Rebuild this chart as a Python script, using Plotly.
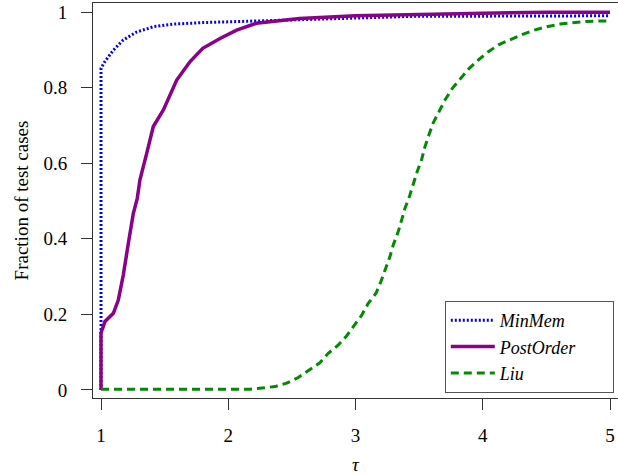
import plotly.graph_objects as go

minmem_tau = [1, 1, 1.031, 1.097, 1.175, 1.28, 1.41, 1.57, 1.8, 2.0, 2.25, 2.56, 3.0, 3.5, 4.0, 4.5, 5.0]
minmem_frac = [0, 0.851, 0.869, 0.899, 0.926, 0.947, 0.961, 0.968, 0.972, 0.974, 0.977, 0.981, 0.985, 0.989, 0.989, 0.990, 0.990]

postorder_tau = [1, 1, 1.031, 1.097, 1.136, 1.175, 1.215, 1.254, 1.285, 1.306, 1.359, 1.411, 1.49, 1.595,
                 1.70, 1.80, 1.935, 2.066, 2.22, 2.56, 3.0, 3.5, 4.0, 4.5, 5.0]
postorder_frac = [0, 0.151, 0.181, 0.203, 0.238, 0.304, 0.388, 0.467, 0.507, 0.556, 0.626, 0.697, 0.741, 0.820,
                  0.869, 0.904, 0.930, 0.952, 0.970, 0.983, 0.990, 0.994, 0.997, 0.999, 0.999]

liu_tau = [1, 2.171, 2.367, 2.459, 2.55, 2.642, 2.72, 2.786, 2.865, 2.93, 2.996, 3.049, 3.10, 3.161, 3.20,
           3.232, 3.271, 3.297, 3.332, 3.363, 3.389, 3.423, 3.454, 3.486, 3.52, 3.546, 3.578, 3.611, 3.659,
           3.703, 3.761, 3.827, 3.894, 3.965, 4.044, 4.128, 4.214, 4.314, 4.405, 4.503, 4.607, 4.712, 4.817,
           4.92, 5.0]
liu_frac = [0.002, 0.002, 0.009, 0.018, 0.033, 0.053, 0.072, 0.097, 0.119, 0.143, 0.172, 0.198, 0.229, 0.256,
            0.287, 0.317, 0.353, 0.384, 0.415, 0.450, 0.481, 0.511, 0.547, 0.579, 0.61, 0.644, 0.676, 0.707,
            0.738, 0.767, 0.798, 0.824, 0.851, 0.873, 0.895, 0.914, 0.927, 0.941, 0.952, 0.961, 0.968, 0.972,
            0.975, 0.976, 0.976]

series_names = ["MinMem", "PostOrder", "Liu"]

x_ticks = [1, 2, 3, 4, 5]
y_ticks = [0, 0.2, 0.4, 0.6, 0.8, 1]
y_ticktext = ["0", "0.2", "0.4", "0.6", "0.8", "1"]

serif = "Liberation Serif, Times New Roman, serif"
pad = "&nbsp;" * 7

fig = go.Figure()
fig.add_trace(go.Scatter(x=minmem_tau, y=minmem_frac, mode="lines", name="<i>%s</i>" % series_names[0],
                         line=dict(color="#0000FF", width=3, dash="2px,2px")))
fig.add_trace(go.Scatter(x=postorder_tau, y=postorder_frac, mode="lines", name="<i>%s</i>%s" % (series_names[1], pad),
                         line=dict(color="#8B008B", width=3.5)))
fig.add_trace(go.Scatter(x=liu_tau, y=liu_frac, mode="lines", name="<i>%s</i>" % series_names[2],
                         line=dict(color="#008B00", width=3, dash="8px,5px")))

fig.update_layout(
    width=618, height=475,
    margin=dict(l=93, r=0, t=3, b=77, autoexpand=False),
    paper_bgcolor="white", plot_bgcolor="white",
    font=dict(family=serif, size=19, color="black"),
    showlegend=True,
    legend=dict(x=0.992, y=0.0127, xanchor="right", yanchor="bottom",
                bgcolor="white", bordercolor="#555555", borderwidth=1,
                font=dict(family=serif, size=18), tracegroupgap=0, itemwidth=44),
    xaxis=dict(range=[0.9371, 5.0629], tickvals=x_ticks, ticktext=[str(v) for v in x_ticks],
               showgrid=False, zeroline=False, showline=True, linecolor="#333333", linewidth=1,
               mirror=True, ticks="outside", ticklen=11, tickcolor="#333333", ticklabelstandoff=9,
               tickfont=dict(family=serif, size=19), automargin=False,
               title=dict(text="<i>τ</i>", standoff=21, font=dict(family=serif, size=19))),
    yaxis=dict(range=[-0.0212, 1.0238], tickvals=y_ticks, ticktext=y_ticktext,
               showgrid=False, zeroline=False, showline=True, linecolor="#333333", linewidth=1,
               mirror=False, ticks="outside", ticklen=11, tickcolor="#333333", ticklabelstandoff=10,
               tickfont=dict(family=serif, size=19), automargin=False,
               title=dict(text="Fraction of test cases", standoff=9, font=dict(family=serif, size=19))),
)

fig.write_html("out.html")
